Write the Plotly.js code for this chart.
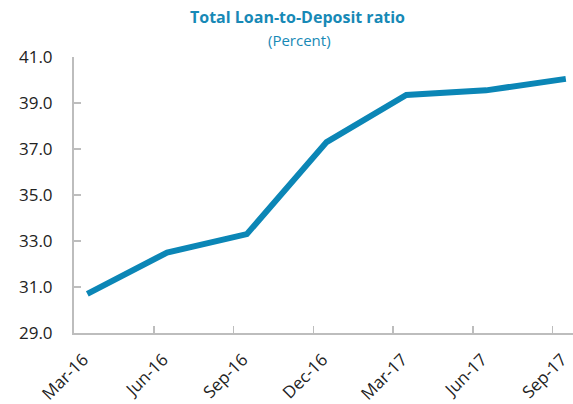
<!DOCTYPE html>
<html>
<head>
<meta charset="utf-8">
<script src="https://cdn.plot.ly/plotly-3.0.1.min.js"></script>
<style>
  html, body { margin: 0; padding: 0; background: #fff; }
  #plot { width: 573px; height: 404px; }
</style>
</head>
<body>
<div id="plot"></div>
<script>
// Quarter labels and loan-to-deposit values (percent)
var quarters = ["Mar-16", "Jun-16", "Sep-16", "Dec-16", "Mar-17", "Jun-17", "Sep-17"];
var ltdRatio = [30.7, 32.5, 33.3, 37.3, 39.35, 39.55, 40.05];
var yTicks = [29, 31, 33, 35, 37, 39, 41];

function createLtdPlot() {
    var xPos = quarters.map(function (q, i) { return i; });
    // labels nudged a hair left so the last one stays inside the page
    var labelPos = xPos.map(function (i) { return i - 0.05; });
    // tick marks sit a bit left of each point, like the original
    var markPos = xPos.slice(1).map(function (i) { return i - 0.167; });

    // Trace 1 ratio line
    var trace1 = {
        x: xPos,
        y: ltdRatio,
        mode: "lines",
        line: {color: "#0b86b6", width: 6},
        hoverinfo: "y",
        showlegend: false
    };

    // Trace 2 invisible, only keeps the tick-mark axis alive
    var trace2 = {
        x: xPos,
        y: ltdRatio,
        xaxis: "x2",
        mode: "lines",
        line: {width: 0},
        opacity: 0,
        hoverinfo: "skip",
        showlegend: false
    };

    var data = [trace1, trace2];

    var axisGray = "#bdbdbd";
    var fontFam = "Open Sans, Noto Sans, sans-serif";

    var layout = {
        width: 573,
        height: 404,
        paper_bgcolor: "#fff",
        plot_bgcolor: "#fff",
        margin: {
            t: 57, //top margin
            l: 74, //left margin
            r: 0,  //right margin
            b: 71  //bottom margin
        },
        xaxis: {
            range: [-0.167, 6.09],
            tickvals: labelPos,
            ticktext: quarters,
            tickangle: -45,
            ticks: "",
            ticklabelstandoff: 8,
            ticklabeloverflow: "allow",
            showgrid: false,
            zeroline: false,
            showline: true,
            linecolor: axisGray,
            linewidth: 2,
            tickfont: {family: fontFam, color: "#222", size: 17}
        },
        xaxis2: {
            overlaying: "x",
            anchor: "y",
            side: "bottom",
            range: [-0.167, 6.09],
            tickvals: markPos,
            ticks: "inside",
            ticklen: 7,
            tickwidth: 1.5,
            tickcolor: axisGray,
            showticklabels: false,
            showgrid: false,
            zeroline: false,
            showline: false
        },
        yaxis: {
            range: [29, 41],
            tickvals: yTicks,
            tickformat: ".1f",
            ticks: "inside",
            ticklen: 7,
            tickwidth: 1.5,
            tickcolor: axisGray,
            ticklabelstandoff: 16,
            showgrid: false,
            zeroline: false,
            showline: true,
            linecolor: axisGray,
            linewidth: 2,
            tickfont: {family: fontFam, color: "#222", size: 17}
        },
        annotations: [
            {
                text: "<b>Total Loan-to-Deposit ratio</b>",
                xref: "paper", yref: "paper",
                x: 0.447, y: 1.145,
                xanchor: "center", yanchor: "middle",
                showarrow: false,
                font: {family: fontFam, color: "#1789b6", size: 16}
            },
            {
                text: "(Percent)",
                xref: "paper", yref: "paper",
                x: 0.451, y: 1.062,
                xanchor: "center", yanchor: "middle",
                showarrow: false,
                font: {family: fontFam, color: "#1789b6", size: 15}
            }
        ]
    };

    Plotly.newPlot("plot", data, layout, {displayModeBar: false, staticPlot: true});
}

createLtdPlot();
</script>
</body>
</html>
